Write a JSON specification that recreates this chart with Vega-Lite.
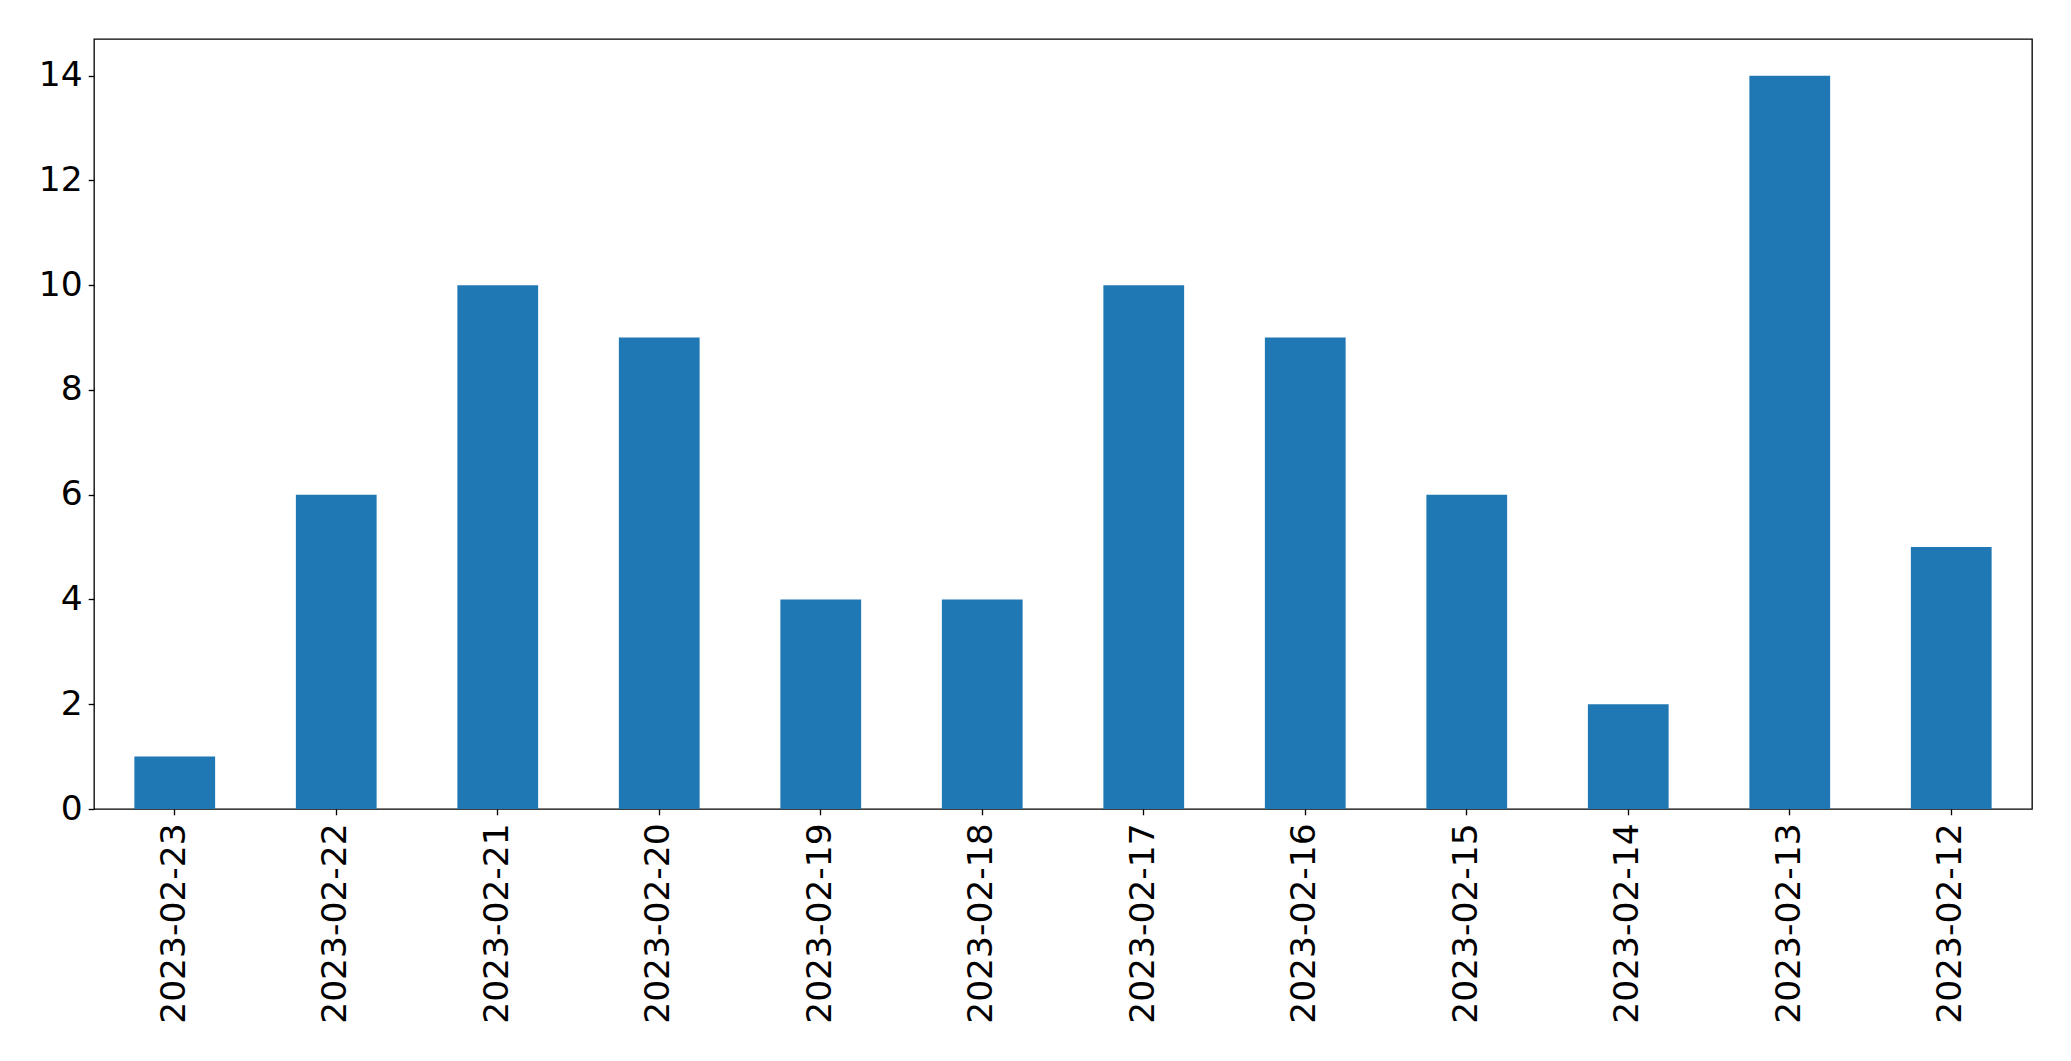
{
  "$schema": "https://vega.github.io/schema/vega-lite/v6.json",
  "autosize": {"type": "none"},
  "padding": {"left": 94, "top": 39, "right": 39, "bottom": 252},
  "width": 1938,
  "height": 770,
  "background": "white",
  "config": {
    "view": {"stroke": "black", "strokeWidth": 1.33},
    "axis": {
      "labelFont": "DejaVu Sans",
      "labelFontSize": 34.5,
      "labelColor": "black",
      "labelLimit": 0,
      "tickColor": "black",
      "tickWidth": 1.33,
      "tickSize": 5.8,
      "domain": false,
      "grid": false,
      "title": null
    }
  },
  "data": {
    "values": [
      {"date": "2023-02-23", "count": 1},
      {"date": "2023-02-22", "count": 6},
      {"date": "2023-02-21", "count": 10},
      {"date": "2023-02-20", "count": 9},
      {"date": "2023-02-19", "count": 4},
      {"date": "2023-02-18", "count": 4},
      {"date": "2023-02-17", "count": 10},
      {"date": "2023-02-16", "count": 9},
      {"date": "2023-02-15", "count": 6},
      {"date": "2023-02-14", "count": 2},
      {"date": "2023-02-13", "count": 14},
      {"date": "2023-02-12", "count": 5}
    ]
  },
  "mark": {"type": "bar", "color": "#1f77b4"},
  "encoding": {
    "x": {
      "field": "date",
      "type": "nominal",
      "sort": null,
      "scale": {"paddingInner": 0.5, "paddingOuter": 0.25},
      "axis": {"labelAngle": 270, "labelAlign": "right", "labelBaseline": "middle", "labelPadding": 8}
    },
    "y": {
      "field": "count",
      "type": "quantitative",
      "scale": {"domain": [0, 14.7], "nice": false, "zero": true},
      "axis": {"values": [0, 2, 4, 6, 8, 10, 12, 14], "labelPadding": 6}
    }
  }
}
